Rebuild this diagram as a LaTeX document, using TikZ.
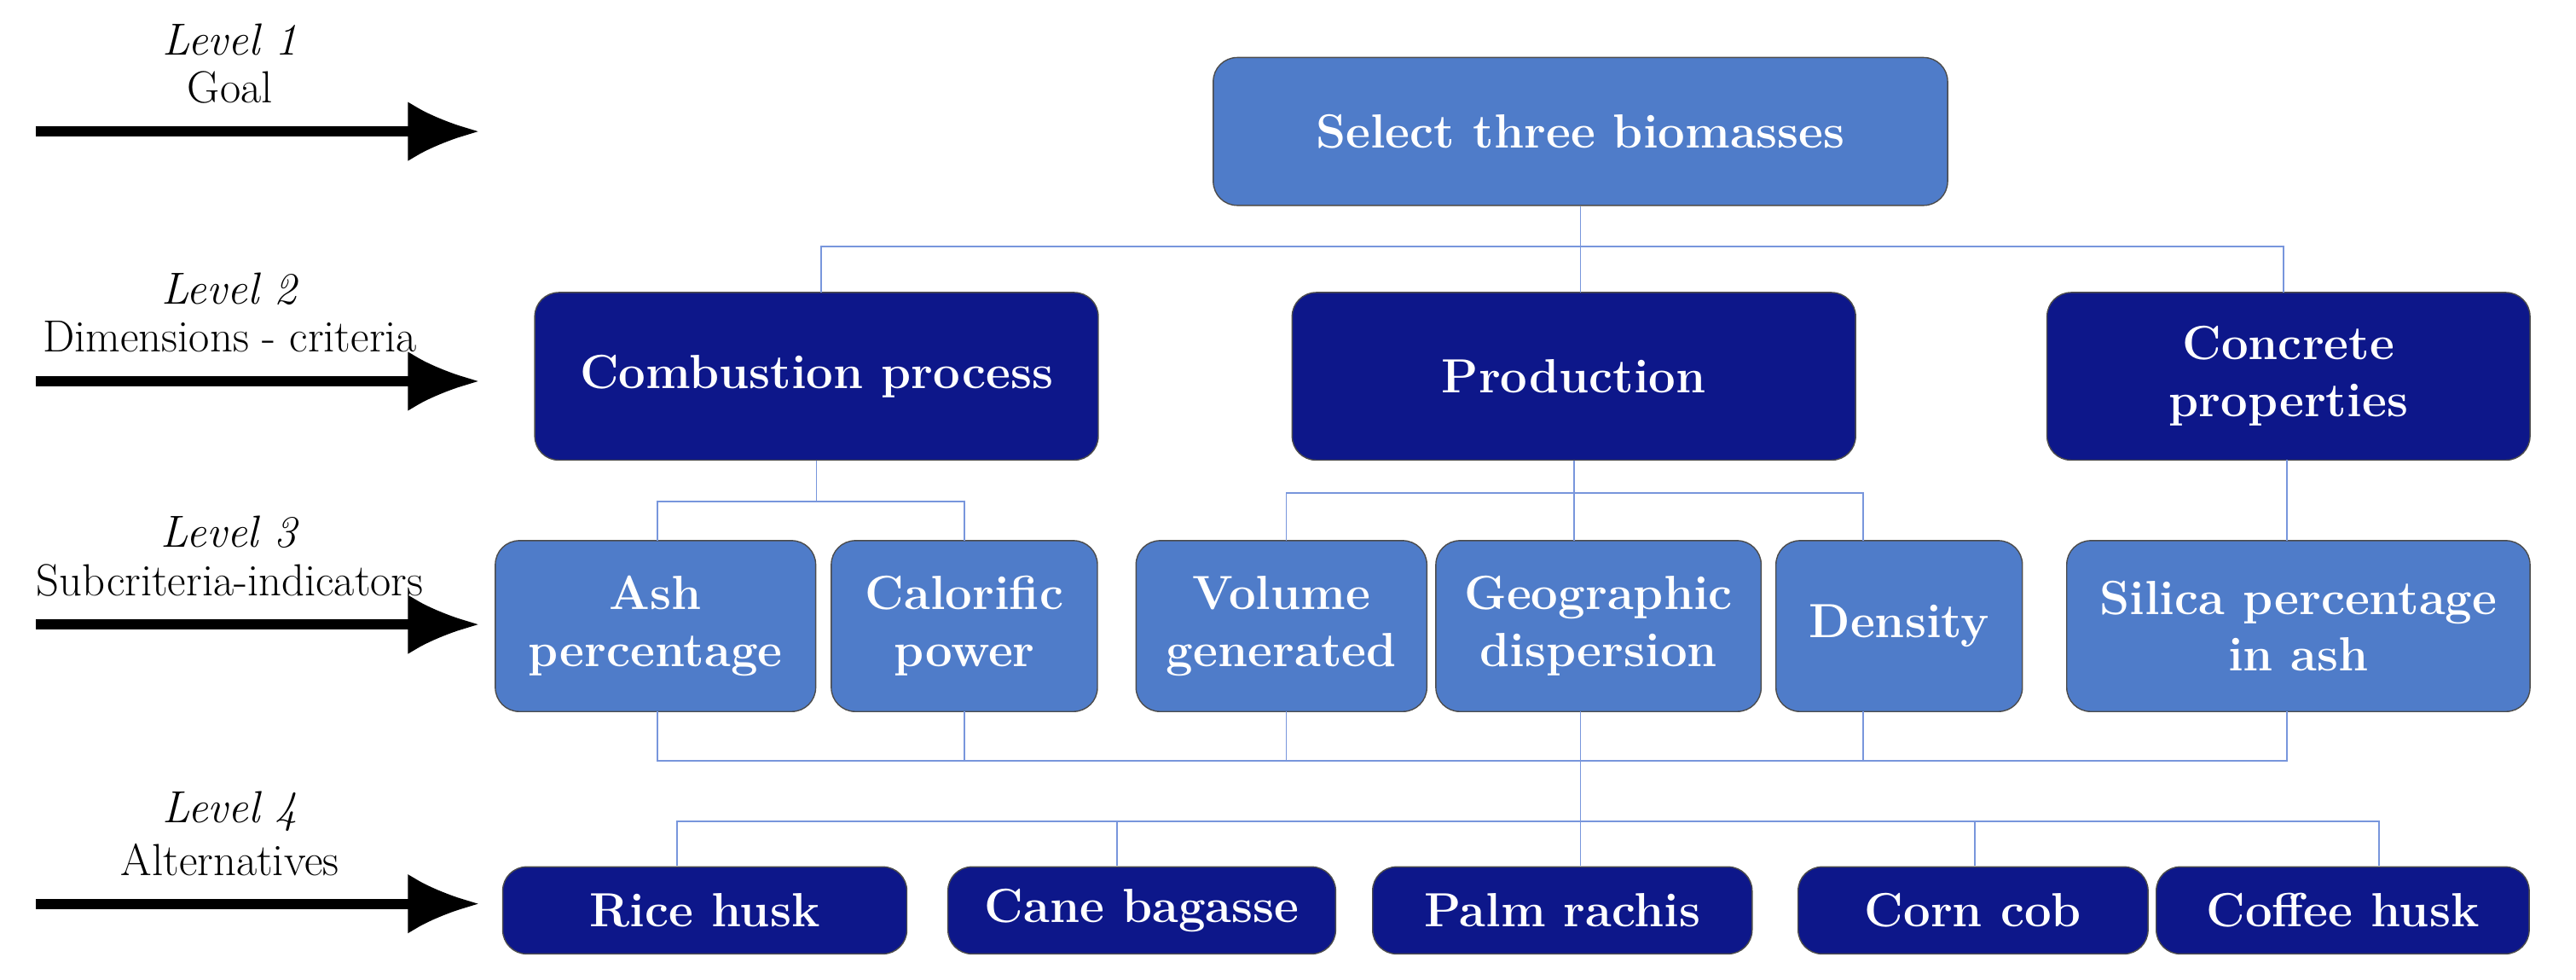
\documentclass[tikz,border=0pt]{standalone}
\usetikzlibrary{arrows.meta}
\begin{document}
\begin{tikzpicture}[x=0.01927cm,y=-0.01927cm,
 lb/.style={draw=black!70,fill={rgb,255:red,79;green,124;blue,201},rounded corners=8pt,text=white,font=\fontsize{16}{19}\selectfont\bfseries,align=center,inner sep=0pt},
 db/.style={draw=black!70,fill={rgb,255:red,13;green,23;blue,138},rounded corners=8pt,text=white,font=\fontsize{16}{19}\selectfont\bfseries,align=center,inner sep=0pt},
 ln/.style={draw={rgb,255:red,120;green,150;blue,220},line width=0.5pt},
 ar/.style={-{Latex[length=24pt,width=20pt]},line width=3.5pt},
 lab/.style={font=\fontsize{15}{18}\selectfont,align=center}]
\useasboundingbox (0,0) rectangle (1568,596);
\node[lb,minimum width=447*0.01927cm,minimum height=90*0.01927cm] (g) at (962,80) {Select three biomasses};
\node[db,minimum width=343*0.01927cm,minimum height=102*0.01927cm] (c) at (497,229) {Combustion process};
\node[db,minimum width=343*0.01927cm,minimum height=102*0.01927cm] (p) at (958,229) {Production};
\node[db,minimum width=294*0.01927cm,minimum height=102*0.01927cm] (k) at (1393,229) {Concrete\\properties};
\node[lb,minimum width=195*0.01927cm,minimum height=104*0.01927cm] (a) at (399,381) {Ash\\percentage};
\node[lb,minimum width=162*0.01927cm,minimum height=104*0.01927cm] (cp) at (587,381) {Calorific\\power};
\node[lb,minimum width=177*0.01927cm,minimum height=104*0.01927cm] (v) at (780,381) {Volume\\generated};
\node[lb,minimum width=198*0.01927cm,minimum height=104*0.01927cm] (gd) at (973,381) {Geographic\\dispersion};
\node[lb,minimum width=150*0.01927cm,minimum height=104*0.01927cm] (d) at (1156,381) {Density};
\node[lb,minimum width=282*0.01927cm,minimum height=104*0.01927cm] (s) at (1399,381) {Silica percentage\\in ash};
\node[db,minimum width=246*0.01927cm,minimum height=53*0.01927cm] (r) at (429,554) {Rice husk};
\node[db,minimum width=236*0.01927cm,minimum height=53*0.01927cm] (cb) at (695,554) {Cane bagasse};
\node[db,minimum width=231*0.01927cm,minimum height=53*0.01927cm] (pr) at (951,554) {Palm rachis};
\node[db,minimum width=213*0.01927cm,minimum height=53*0.01927cm] (cc) at (1201,554) {Corn cob};
\node[db,minimum width=227*0.01927cm,minimum height=53*0.01927cm] (ch) at (1426,554) {Coffee husk};
% connectors
\draw[ln] (g.south) -- ++(0,25);
\draw[ln] (500,178) |- (1390,150) -- (1390,178);
\draw[ln] (962,150) -- (962,178);
\draw[ln] (c.south) -- ++(0,25);
\draw[ln] (400,329) |- (587,305) -- (587,329);
\draw[ln] (p.south) -- ++(0,20);
\draw[ln] (783,329) |- (1134,300) -- (1134,329);
\draw[ln] (958,300) -- (958,329);
\draw[ln] (1392,280) -- (1392,329);
\draw[ln] (400,433) |- (1392,463) -- (1392,433);
\draw[ln] (587,433) -- (587,463);
\draw[ln] (783,433) -- (783,463);
\draw[ln] (1134,433) -- (1134,463);
\draw[ln] (962,433) -- (962,500);
\draw[ln] (412,527) |- (1448,500) -- (1448,527);
\draw[ln] (680,500) -- (680,527);
\draw[ln] (962,500) -- (962,527);
\draw[ln] (1202,500) -- (1202,527);
% level labels
\foreach \yy/\a/\b/\n in {80/Level 1/Goal/1,232/Level 2/Dimensions - criteria/2,380/Level 3/Subcriteria-indicators/3,550/Level 4/Alternatives/4}{
 \coordinate (s\n) at (22,\yy); \coordinate (e\n) at (292,\yy);
 \draw[ar] (s\n) -- (e\n);
 \node[lab] (l\n) at (140,\yy-56) {\textit{\a}};
 \node[lab] (m\n) at (140,\yy-27) {\b};}
\end{tikzpicture}
\end{document}
